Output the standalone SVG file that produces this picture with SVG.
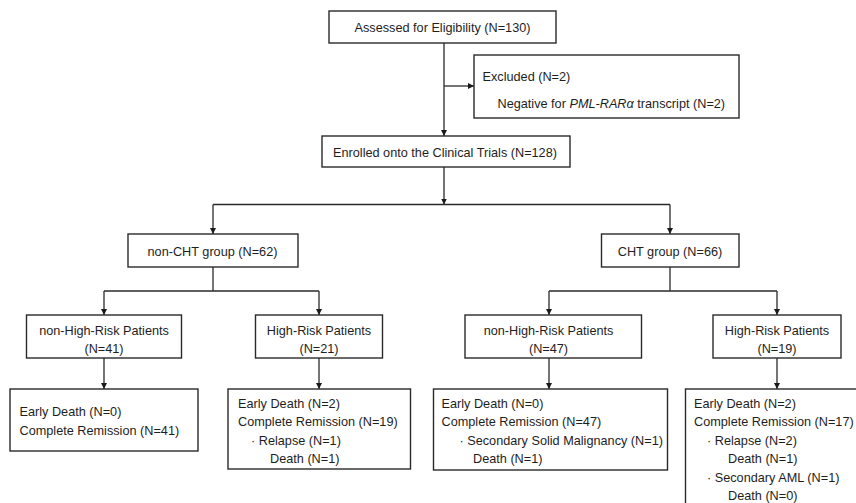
<svg xmlns="http://www.w3.org/2000/svg" width="856" height="503" viewBox="0 0 856 503">
<defs>
<style>
.box{fill:#fff;stroke:#2a2a2a;stroke-width:1.4}
text{font-family:"Liberation Sans",Arial,sans-serif;font-size:12.7px;fill:#1e1e1e}
.c{text-anchor:middle}
.ln{fill:none;stroke:#2a2a2a;stroke-width:1.3}
</style>
<marker id="ah" viewBox="0 0 10 10" refX="10" refY="5" markerWidth="6" markerHeight="6" markerUnits="userSpaceOnUse" orient="auto">
<path d="M0,0 L10,5 L0,10 Z" fill="#1a1a1a"/>
</marker>
</defs>
<rect width="856" height="503" fill="#fff"/>
<g id="connectors">
<path class="ln" d="M444,43 V136" marker-end="url(#ah)"/>
<path class="ln" d="M444,86 H474" marker-end="url(#ah)"/>
<path class="ln" d="M444,167 V204.5" marker-end="url(#ah)"/>
<path class="ln" d="M213,204.5 H670"/>
<path class="ln" d="M213,204.5 V234" marker-end="url(#ah)"/>
<path class="ln" d="M670,204.5 V234" marker-end="url(#ah)"/>
<path class="ln" d="M213,267 V291"/>
<path class="ln" d="M104,291 H319"/>
<path class="ln" d="M104,291 V315" marker-end="url(#ah)"/>
<path class="ln" d="M319,291 V315" marker-end="url(#ah)"/>
<path class="ln" d="M670,267 V291"/>
<path class="ln" d="M549,291 H777"/>
<path class="ln" d="M549,291 V315" marker-end="url(#ah)"/>
<path class="ln" d="M777,291 V315" marker-end="url(#ah)"/>
<path class="ln" d="M104,358 V389" marker-end="url(#ah)"/>
<path class="ln" d="M319,358 V389" marker-end="url(#ah)"/>
<path class="ln" d="M549,358 V389" marker-end="url(#ah)"/>
<path class="ln" d="M777,358 V389" marker-end="url(#ah)"/>
</g>
<g id="assessed">
<rect class="box" x="329" y="11" width="227" height="32"/>
<text class="c" x="442.5" y="31.5">Assessed for Eligibility (N=130)</text>
</g>
<g id="excluded">
<rect class="box" x="474" y="55" width="265" height="63"/>
<text x="482.5" y="81">Excluded (N=2)</text>
<text x="497.5" y="108">Negative for <tspan font-style="italic">PML-RARα</tspan> transcript (N=2)</text>
</g>
<g id="enrolled">
<rect class="box" x="322" y="136" width="248" height="31"/>
<text class="c" x="445" y="156.5">Enrolled onto the Clinical Trials (N=128)</text>
</g>
<g id="nonCHT">
<rect class="box" x="128" y="234" width="170" height="33"/>
<text class="c" x="212.5" y="255.5">non-CHT group (N=62)</text>
</g>
<g id="CHT">
<rect class="box" x="601.5" y="234" width="137.5" height="33"/>
<text class="c" x="670" y="255.5">CHT group (N=66)</text>
</g>
<g id="nonHR1">
<rect class="box" x="26.5" y="315" width="155" height="43"/>
<text class="c" x="104" y="335">non-High-Risk Patients</text>
<text class="c" x="104" y="353">(N=41)</text>
</g>
<g id="HR1">
<rect class="box" x="255.5" y="315" width="127" height="43"/>
<text class="c" x="319" y="335">High-Risk Patients</text>
<text class="c" x="319" y="353">(N=21)</text>
</g>
<g id="nonHR2">
<rect class="box" x="465" y="315" width="176.5" height="43"/>
<text class="c" x="548.5" y="335">non-High-Risk Patients</text>
<text class="c" x="548.5" y="353">(N=47)</text>
</g>
<g id="HR2">
<rect class="box" x="713" y="315" width="128" height="43"/>
<text class="c" x="777" y="335">High-Risk Patients</text>
<text class="c" x="777" y="353">(N=19)</text>
</g>
<g id="out1">
<rect class="box" x="10" y="389" width="188" height="62"/>
<text x="19.5" y="416">Early Death (N=0)</text>
<text x="19.5" y="435">Complete Remission (N=41)</text>
</g>
<g id="out2">
<rect class="box" x="228" y="389" width="182.5" height="80"/>
<text x="238" y="407.5">Early Death (N=2)</text>
<text x="238" y="426">Complete Remission (N=19)</text>
<text x="251" y="444.5">· Relapse (N=1)</text>
<text x="270" y="463">Death (N=1)</text>
</g>
<g id="out3">
<rect class="box" x="433.5" y="389" width="234" height="81"/>
<text x="441.5" y="407.5">Early Death (N=0)</text>
<text x="441.5" y="426">Complete Remission (N=47)</text>
<text x="459.5" y="444.5">· Secondary Solid Malignancy (N=1)</text>
<text x="473" y="463">Death (N=1)</text>
</g>
<g id="out4">
<rect class="box" x="685.5" y="389" width="190" height="130"/>
<text x="694" y="407.5">Early Death (N=2)</text>
<text x="694" y="426">Complete Remission (N=17)</text>
<text x="707" y="444.5">· Relapse (N=2)</text>
<text x="728" y="463">Death (N=1)</text>
<text x="707" y="481.5">· Secondary AML (N=1)</text>
<text x="728" y="500">Death (N=0)</text>
</g>
</svg>
